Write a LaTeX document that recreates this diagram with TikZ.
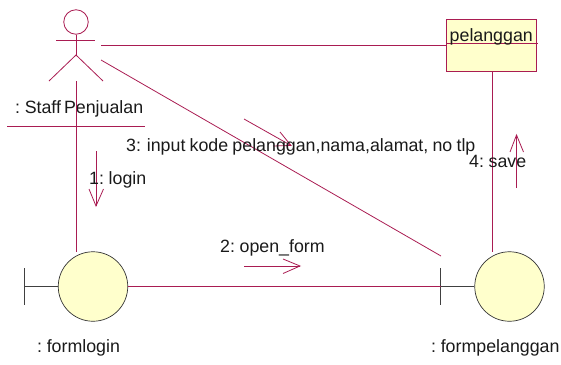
\documentclass[tikz,border=0pt]{standalone}
\usepackage{fontspec}
\setmainfont[WordSpace=0.6]{Liberation Sans}
\newfontfamily\widerspace[WordSpace=0.85]{Liberation Sans}
\definecolor{umlline}{HTML}{A91C52}
\definecolor{umlfill}{HTML}{FFFFCC}
\definecolor{umltext}{HTML}{1A1A1A}
\tikzset{
  umlconn/.style={draw=umlline,line width=0.8pt},
  flow/.style={draw=umlline,line width=0.8pt},
  lbl/.style={inner sep=0pt,anchor=base west,text=umltext,font=\fontsize{17.8}{20}\selectfont},
  ctrl/.style={circle,draw=black!80,fill=umlfill,line width=0.7pt,minimum size=69.5pt,inner sep=0pt},
  tbar/.style={draw=black!75,line width=0.8pt},
  headc/.style={circle,draw=umlline,line width=0.8pt,minimum size=24.5pt,inner sep=0pt},
  classbox/.style={rectangle,draw=umlline,fill=umlfill,line width=0.9pt,minimum width=90pt,minimum height=52pt,inner sep=0pt}
}
\begin{document}
\begin{tikzpicture}[x=1pt,y=-1pt]
\useasboundingbox (0,0) rectangle (561,364);
% actor
\node[headc] (head) at (76,22) {};
\coordinate (armL) at (56,40);
\coordinate (armR) at (95,40);
\coordinate (hip) at (76,55);
\coordinate (legL) at (49,81);
\coordinate (legR) at (103,81);
\draw[umlconn] (head.south) -- (hip);
\draw[umlconn] (armL) -- (armR);
\draw[umlconn] (legL) -- (hip) -- (legR);
\node[lbl] (actorlabel) at (15,113) {: Staff Penjualan};
\coordinate (ulL) at (7,126.5);
\coordinate (ulR) at (145,126.5);
\draw[umlconn] (ulL) -- (ulR);
% class
\node[classbox] (cls) at (491.5,45) {};
\coordinate (sepL) at (446.5,43.5);
\coordinate (sepR) at (538,43.5);
\draw[draw=umlline,line width=0.7pt] (sepL) -- (sepR);
\node[lbl] (clslabel) at (449.5,41) {pelanggan};
% boundaries
\node[ctrl] (fl) at (93,286.5) {};
\node[ctrl] (fp) at (509.5,286.5) {};
\coordinate (flT1) at (24.5,268);
\coordinate (flT2) at (24.5,305);
\coordinate (flM) at (24.5,286.5);
\coordinate (fpT1) at (440.5,268);
\coordinate (fpT2) at (440.5,305);
\coordinate (fpM) at (440.5,286.5);
\draw[tbar] (flT1) -- (flT2);
\draw[tbar] (flM) -- (fl.west);
\draw[tbar] (fpT1) -- (fpT2);
\draw[tbar] (fpM) -- (fp.west);
\node[lbl] (fllabel) at (37,352) {: formlogin};
\node[lbl] (fplabel) at (431,352) {: formpelanggan};
% connectors
\coordinate (a1) at (76,81);
\coordinate (a2) at (76,252);
\draw[umlconn] (a1) -- (a2);
\coordinate (b1) at (101,45.5);
\draw[umlconn] (b1) -- (cls.west |- b1);
\coordinate (c1) at (101,60);
\coordinate (c2) at (441,256);
\draw[umlconn] (c1) -- (c2);
\coordinate (d1) at (492,72);
\coordinate (d2) at (492,252);
\draw[umlconn] (d1) -- (d2);
\draw[umlconn] (fl.east) -- (fpM);
% message arrows
\coordinate (m1s) at (96,151);
\coordinate (m1e) at (96,206);
\coordinate (m1a) at (89,189);
\coordinate (m1b) at (103.5,189);
\draw[flow] (m1s) -- (m1e);
\draw[flow] (m1a) -- (m1e) -- (m1b);
\coordinate (m2s) at (244,266);
\coordinate (m2e) at (300,266);
\coordinate (m2a) at (283,259);
\coordinate (m2b) at (283,273.5);
\draw[flow] (m2s) -- (m2e);
\draw[flow] (m2a) -- (m2e) -- (m2b);
\coordinate (m3s) at (244,119);
\coordinate (m3e) at (291,145.5);
\coordinate (m3a) at (280,132);
\coordinate (m3b) at (273,146);
\draw[flow] (m3s) -- (m3e);
\draw[flow] (m3a) -- (m3e) -- (m3b);
\coordinate (m4s) at (516.5,188);
\coordinate (m4e) at (516.5,135);
\coordinate (m4a) at (510,152);
\coordinate (m4b) at (523.5,152);
\draw[flow] (m4s) -- (m4e);
\draw[flow] (m4a) -- (m4e) -- (m4b);
% labels
\node[lbl] (l1) at (89,184) {1: login};
\node[lbl] (l2) at (220,252) {2: open\_form};
\node[lbl] (l3) at (126,151) {\widerspace 3: input kode pelanggan,nama,alamat, no tlp};
\node[lbl] (l4) at (469,167) {4: save};
\end{tikzpicture}
\end{document}
